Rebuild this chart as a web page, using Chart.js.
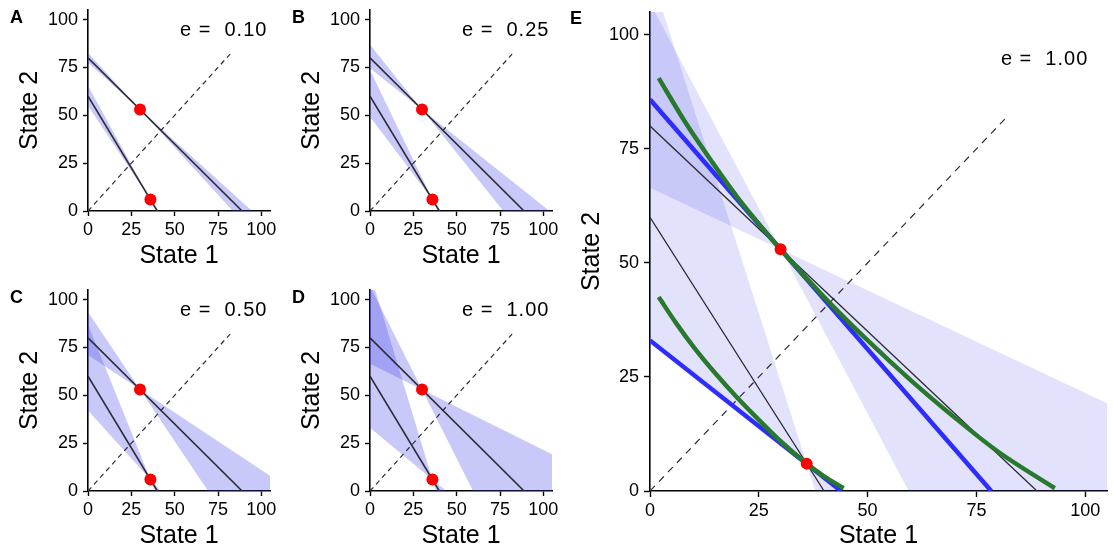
<!DOCTYPE html>
<html>
<head>
<meta charset="utf-8">
<script src="https://cdn.jsdelivr.net/npm/chart.js@4.4.1/dist/chart.umd.min.js"></script>
<style>
  body { margin: 0; background: #fff; width: 1113px; height: 550px; position: relative; overflow: hidden; }
  canvas { position: absolute; }
</style>
</head>
<body>
<canvas id="cA"></canvas>
<canvas id="cB"></canvas>
<canvas id="cC"></canvas>
<canvas id="cD"></canvas>
<canvas id="cE"></canvas>
<script>
const FONT = "'Liberation Sans', Arial, Helvetica, sans-serif";

// axes
const axisTicks = [0, 25, 50, 75, 100];

// budget lines (black)
const line1X = [0, 88.9], line1Y = [80, 0];
const line2X = [0, 40],   line2Y = [60, 0];

// chosen bundles (red)
const bundleX = [30, 36], bundleY = [53, 6];

// 45 degree reference
const diagX = [0, 82], diagY = [0, 82];

// noise level per small panel, and the slopes of the band edges around each line
const noiseLabels = ['0.10', '0.25', '0.50', '1.00'];
const band1Slopes = [[-0.82, -0.99], [-0.72, -1.13], [-0.60, -1.35], [-0.45, -1.80]];
const band2Slopes = [[-1.36, -1.65], [-1.20, -1.88], [-1.00, -2.25], [-0.75, -3.00]];

// panel E extras: fitted linear (blue) and curved (green) indifference lines
const blue1X = [0, 78.4], blue1Y = [85.8, 0];
const blue2X = [0, 43.9], blue2Y = [33, 0];
const green1X = [2, 8, 14, 20, 30, 40, 50, 60, 70, 80, 93];
const green1Y = [90.5, 81, 72.5, 64.5, 53, 42.5, 33, 24.2, 16.1, 8.6, 0.6];
const green2X = [2, 6, 10, 15, 20, 25, 30, 36, 40, 44.5];
const green2Y = [42.5, 36.8, 31.6, 25.8, 20.5, 15.6, 10.9, 6, 3.2, 0.6];

const pts = (xs, ys) => xs.map((x, i) => ({x, y: ys[i]}));

function lineSet(xs, ys, color, width, extra) {
  return Object.assign({
    data: pts(xs, ys), borderColor: color, borderWidth: width,
    pointRadius: 0, fill: false, tension: 0
  }, extra || {});
}

// a band is the wedge between two lines through the bundle point
function bandSets(px, py, slopes, color) {
  const edge = s => [-5, 115].map(x => ({x, y: py + s * (x - px)}));
  return [
    {data: edge(slopes[0]), borderWidth: 0, pointRadius: 0, fill: false},
    {data: edge(slopes[1]), borderWidth: 0, pointRadius: 0, fill: '-1', backgroundColor: color}
  ];
}

const textPlugin = {
  id: 'panelText',
  afterDraw(chart, args, o) {
    const {ctx, chartArea: a, scales: {x, y}} = chart;
    ctx.save();
    ctx.fillStyle = '#000';
    ctx.textBaseline = 'alphabetic';
    ctx.font = 'bold 18px ' + FONT;
    ctx.textAlign = 'left';
    ctx.fillText(o.letter, a.left - o.letterDx, a.top + o.letterDy);
    ctx.font = '20px ' + FONT;
    ctx.textAlign = 'right';
    ctx.letterSpacing = '1px';
    ctx.fillText('e =  ' + o.e, x.getPixelForValue(o.eAt[0]), y.getPixelForValue(o.eAt[1]));
    ctx.letterSpacing = '0px';
    ctx.font = '25px ' + FONT;
    ctx.textAlign = 'center';
    ctx.fillText('State 1', (a.left + a.right) / 2, a.bottom + 52);
    ctx.translate(a.left - 51, (a.top + a.bottom) / 2);
    ctx.rotate(-Math.PI / 2);
    ctx.fillText('State 2', 0, 0);
    ctx.restore();
  }
};

function axis(horizontal, tickLen, pad, box) {
  return {
    type: 'linear', min: 0, max: 105,
    afterBuildTicks: s => { s.ticks = axisTicks.map(v => ({value: v})); },
    afterFit: s => {
      if (horizontal) { s.height = box.h - box.bottom; s.paddingLeft = 0; s.paddingRight = 0; }
      else { s.width = box.left; s.paddingTop = 0; s.paddingBottom = 0; }
    },
    grid: {drawOnChartArea: false, drawTicks: true, tickLength: tickLen, tickColor: '#000', tickWidth: 1.4},
    border: {display: true, color: '#000', width: 1.6},
    ticks: {color: '#000', font: {family: FONT, size: 18}, padding: pad, maxRotation: 0, autoSkip: false}
  };
}

function makePanel(id, box, datasets, text, big) {
  const cv = document.getElementById(id);
  cv.width = box.w; cv.height = box.h;
  cv.style.left = box.x + 'px'; cv.style.top = box.y + 'px';
  // Chart.js paints lower "order" on top; keep list order = paint order
  datasets.forEach((d, i) => { d.order = -i; });
  new Chart(cv, {
    type: 'line',
    data: {datasets},
    options: {
      responsive: false, animation: false, events: [],
      layout: {padding: {left: 0, top: box.top, right: box.w - box.right, bottom: 0}},
      plugins: {legend: {display: false}, tooltip: {enabled: false}, panelText: text},
      scales: {
        x: axis(true, big ? 6 : 5, 3, box),
        y: axis(false, big ? 6 : 5, 5, box)
      }
    },
    plugins: [textPlugin]
  });
}

const smallBand = 'rgba(60,60,235,0.28)';
const bigBand = 'rgba(60,60,235,0.15)';
const ink = '#2c2c36';

function commonSets(i, bandColor, lw, dash) {
  return [
    ...bandSets(bundleX[0], bundleY[0], band1Slopes[i], bandColor),
    ...bandSets(bundleX[1], bundleY[1], band2Slopes[i], bandColor),
    lineSet(diagX, diagY, ink, 1.2, {borderDash: dash}),
    lineSet(line1X, line1Y, ink, lw),
    lineSet(line2X, line2Y, ink, lw)
  ];
}

function dots(r) {
  return {data: pts(bundleX, bundleY), showLine: false,
          pointStyle: 'circle', pointRadius: r, pointBorderWidth: 0,
          borderColor: '#ff0000', backgroundColor: '#ff0000',
          pointBackgroundColor: '#ff0000', pointBorderColor: '#ff0000'};
}

const letters = ['A', 'B', 'C', 'D'];
const boxes = [
  {x: 0,   y: 0,   w: 280, h: 275, left: 88, right: 270, top: 10, bottom: 211},
  {x: 280, y: 0,   w: 280, h: 275, left: 90, right: 272, top: 10, bottom: 211},
  {x: 0,   y: 280, w: 280, h: 270, left: 88, right: 270, top: 10, bottom: 211},
  {x: 280, y: 280, w: 280, h: 270, left: 90, right: 272, top: 10, bottom: 211}
];

letters.forEach((L, i) => {
  makePanel('c' + L, boxes[i],
    [...commonSets(i, smallBand, 1.6, [5, 4]), dots(6)],
    {letter: L, letterDx: 78, letterDy: 13, e: noiseLabels[i], eAt: [103.5, 91.4]});
});

makePanel('cE', {x: 565, y: 0, w: 548, h: 550, left: 85, right: 547, top: 12, bottom: 491},
  [
    ...commonSets(3, bigBand, 1.3, [7, 6]),
    lineSet(blue1X, blue1Y, '#2d2dff', 4.5),
    lineSet(blue2X, blue2Y, '#2d2dff', 4.5),
    lineSet(green1X, green1Y, '#28782e', 4.5, {cubicInterpolationMode: 'monotone'}),
    lineSet(green2X, green2Y, '#28782e', 4.5, {cubicInterpolationMode: 'monotone'}),
    dots(6)
  ],
  {letter: 'E', letterDx: 80, letterDy: 12, e: noiseLabels[3], eAt: [100.7, 93.4]}, true);
</script>
</body>
</html>
